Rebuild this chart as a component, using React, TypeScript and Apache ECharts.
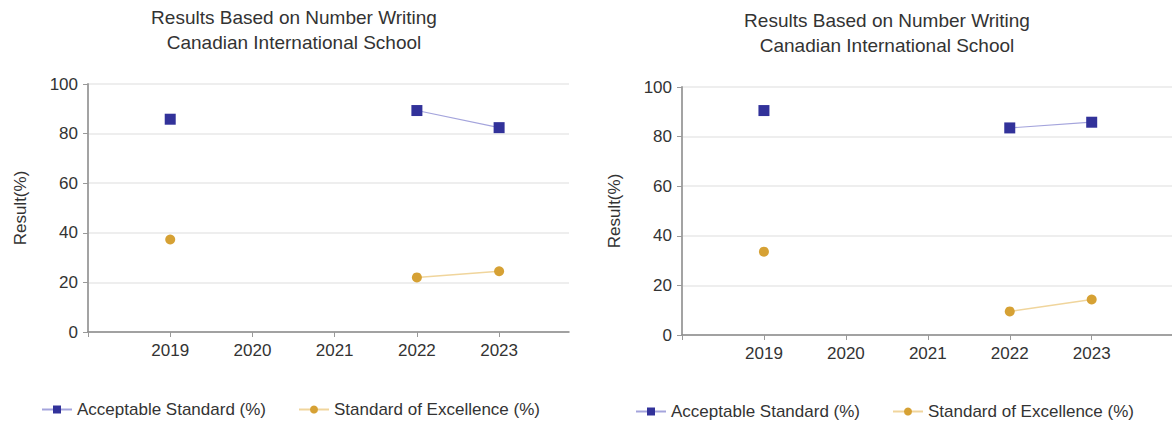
import { useEffect, useRef } from "react";
import * as echarts from "echarts";

// Years on the horizontal axis and the values of each panel
const years = [2019, 2020, 2021, 2022, 2023];
const tickYears = [2018, 2019, 2020, 2021, 2022, 2023];
const titleLines = ["Results Based on Number Writing", "Canadian International School"];
const seriesNames = ["Acceptable Standard (%)", "Standard of Excellence (%)"];
const yAxisName = "Result(%)";

const leftAcceptable = [85.8, null, null, 89.3, 82.4];
const leftExcellence = [37.3, null, null, 22.0, 24.5];
const rightAcceptable = [90.5, null, null, 83.5, 85.8];
const rightExcellence = [33.6, null, null, 9.5, 14.3];

const FONT = "'Liberation Sans', Arial, Helvetica, sans-serif";
const TEXT = "#333333";
const ACC_COLOR = "#32329a";
const ACC_LINE = "#a4a4dc";
const EXC_COLOR = "#d6a134";
const EXC_LINE = "#f0d59c";

const panels = [
  { left: 88, top: 84, width: 481, xMax: 2023.85, titleX: 294, titleY: 5, legendLeft: 36, legendTop: 396, acc: leftAcceptable, exc: leftExcellence },
  { left: 682, top: 87, width: 490, xMax: 2023.98, titleX: 887, titleY: 8, legendLeft: 630, legendTop: 398, acc: rightAcceptable, exc: rightExcellence },
];

const toPairs = (vals: (number | null)[]) =>
  years.map((y, i) => [y, vals[i] === null ? "-" : vals[i]]);

export default function App() {
  const ref = useRef<HTMLDivElement>(null);

  useEffect(() => {
    document.body.style.margin = "0";
    const chart = echarts.init(ref.current!, undefined, { renderer: "svg" });

    chart.setOption({
      animation: false,
      backgroundColor: "#ffffff",
      textStyle: { fontFamily: FONT },
      graphic: panels.map((p) => ({
        type: "text",
        x: p.titleX,
        y: p.titleY,
        style: {
          text: titleLines.join("\n"),
          textAlign: "center",
          fill: TEXT,
          font: `19px ${FONT}`,
          lineHeight: 25,
        },
      })),
      legend: panels.map((p) => ({
        left: p.legendLeft,
        top: p.legendTop,
        data: seriesNames,
        itemWidth: 30,
        itemHeight: 10,
        itemGap: 32,
        textStyle: { color: TEXT, fontSize: 17, fontFamily: FONT },
      })),
      grid: panels.map((p) => ({ left: p.left, top: p.top, width: p.width, height: 248 })),
      xAxis: panels.map((p, i) => ({
        type: "value",
        gridIndex: i,
        min: 2018,
        max: p.xMax,
        interval: 1,
        axisLine: { show: true, lineStyle: { color: "#888888", width: 1.5 } },
        axisTick: { show: true, customValues: tickYears, length: 5, lineStyle: { color: "#999999" } },
        axisLabel: {
          customValues: years,
          formatter: (v: number) => String(v),
          color: TEXT,
          fontSize: 17,
          margin: 10,
          fontFamily: FONT,
        },
        splitLine: { show: false },
      })),
      yAxis: panels.map((_, i) => ({
        type: "value",
        gridIndex: i,
        min: 0,
        max: 100,
        interval: 20,
        name: yAxisName,
        nameLocation: "middle",
        nameGap: 59,
        nameTextStyle: { color: TEXT, fontSize: 17, fontFamily: FONT },
        axisLine: { show: true, lineStyle: { color: "#a3a3a3", width: 2 } },
        axisTick: { show: true, length: 5, lineStyle: { color: "#999999" } },
        axisLabel: { color: TEXT, fontSize: 17, margin: 10, fontFamily: FONT },
        splitLine: { show: true, lineStyle: { color: "#e8e8e8", width: 1.5 } },
      })),
      series: panels.flatMap((p, i) => [
        {
          name: seriesNames[0],
          type: "line",
          xAxisIndex: i,
          yAxisIndex: i,
          data: toPairs(p.acc),
          symbol: "rect",
          symbolSize: 11,
          showSymbol: true,
          connectNulls: false,
          itemStyle: { color: ACC_COLOR },
          lineStyle: { color: ACC_LINE, width: 1.2 },
        },
        {
          name: seriesNames[1],
          type: "line",
          xAxisIndex: i,
          yAxisIndex: i,
          data: toPairs(p.exc),
          symbol: "circle",
          symbolSize: 10,
          showSymbol: true,
          connectNulls: false,
          itemStyle: { color: EXC_COLOR },
          lineStyle: { color: EXC_LINE, width: 1.5 },
        },
      ]),
    });

    return () => chart.dispose();
  }, []);

  return (
    <div
      ref={ref}
      style={{ position: "absolute", left: 0, top: 0, width: 1172, height: 421 }}
    />
  );
}
